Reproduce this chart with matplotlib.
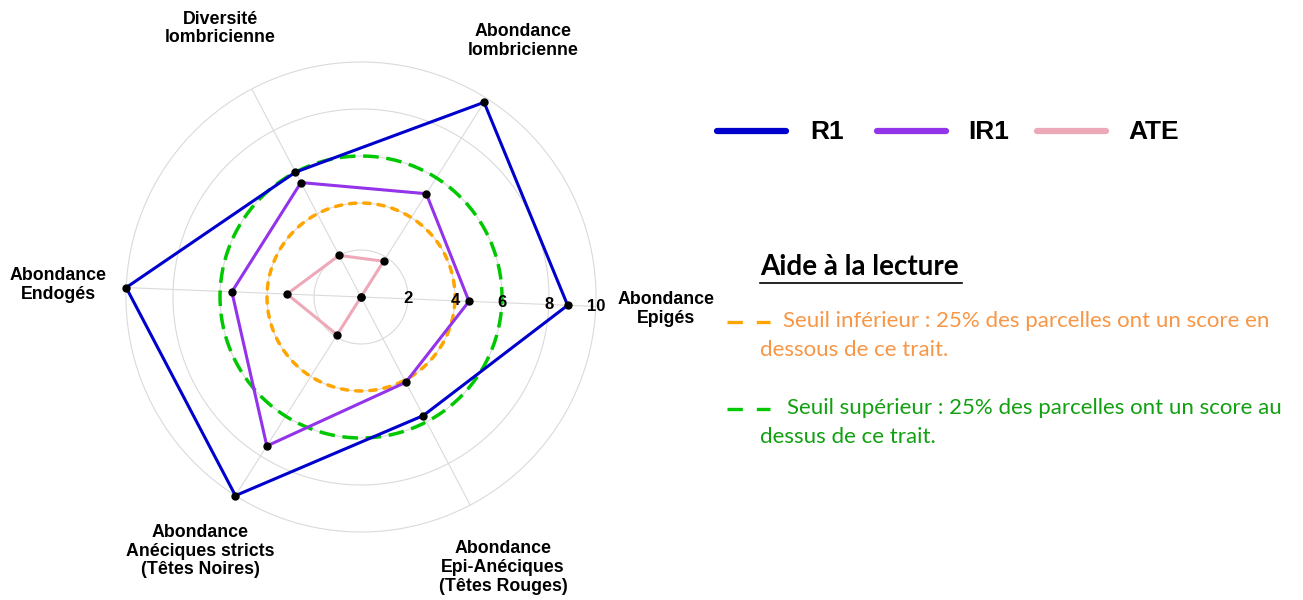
import numpy as np
import matplotlib.pyplot as plt
from matplotlib.lines import Line2D

# axes of the radar (counter-clockwise from the right)
axes_labels = ["Abondance\nEpigés",
               "Abondance\nlombricienne",
               "Diversité\nlombricienne",
               "Abondance\nEndogés",
               "Abondance\nAnéciques stricts\n(Têtes Noires)",
               "Abondance\nEpi-Anéciques\n(Têtes Rouges)"]

series_names = ["R1", "IR1", "ATE"]
r1 = [8.8, 9.8, 6.0, 10.0, 10.0, 5.7]
ir1 = [4.6, 5.2, 5.5, 5.5, 7.5, 4.1]
ate = [0.0, 1.8, 2.0, 3.15, 1.9, 0.0]

seuil_inf = 4.0
seuil_sup = 6.0
grid_levels = [2, 4, 6, 8, 10]

colors = ["#0000CD", "#9333EA", "#EEA9B8"]

W, H = 1303, 600
fig = plt.figure(figsize=(W / 100, H / 100), dpi=100)

# polar axes centred at (361, 297) px with a radius of 235 px
cx, cy, rad = 361, 297, 235
ax = fig.add_axes([(cx - rad) / W, (H - cy - rad) / H, 2 * rad / W, 2 * rad / H],
                  projection="polar")
ax.set_theta_offset(np.deg2rad(-2.3))
ax.set_ylim(0, 10)
ax.grid(False)
ax.set_xticks([])
ax.set_yticks([])
ax.spines["polar"].set_visible(False)
ax.patch.set_alpha(0)

n = len(axes_labels)
theta = np.arange(n) * 2 * np.pi / n
full = np.linspace(0, 2 * np.pi, 400)

# grid
for lv in grid_levels:
    ax.plot(full, np.full_like(full, lv), color="#DADADA", lw=0.8, zorder=1,
            clip_on=False)
for t in theta:
    ax.plot([t, t], [0, 10], color="#DADADA", lw=0.8, zorder=1)

# threshold circles
ax.plot(full, np.full_like(full, seuil_inf), color="#FFA500", lw=2.5,
        ls=(0, (1.8, 2.3)), dash_capstyle="round", zorder=2)
ax.plot(full, np.full_like(full, seuil_sup), color="#00C800", lw=2.5,
        ls=(0, (4.5, 2.2)), zorder=2)

# series
for vals, c in zip([r1, ir1, ate], colors):
    tt = np.append(theta, theta[0])
    vv = np.append(vals, vals[0])
    ax.plot(tt, vv, color=c, lw=2.2, zorder=3, clip_on=False)
    ax.plot(theta, vals, "o", color="black", ms=5, zorder=4, clip_on=False)

# radial tick labels along the first axis
for lv in grid_levels:
    ax.text(theta[0], lv, str(lv), ha="center", va="center", fontsize=12,
            fontweight="bold", family="Liberation Sans", zorder=5)

# axis labels
label_r = [13.0, 12.9, 12.9, 12.9, 12.8, 13.0]
for t, lab, rr in zip(theta, axes_labels, label_r):
    ax.text(t, rr, lab, ha="center", va="center", fontsize=12.8, fontweight="bold",
            family="Liberation Sans", linespacing=1.12)

# legend (top right)
def fx(x):
    return x / W

def fy(y):
    return 1 - y / H

leg_x = [(717, 786, 810), (877, 946, 968), (1037, 1106, 1128)]
for (x0, x1, xt), name, c in zip(leg_x, series_names, colors):
    fig.add_artist(Line2D([fx(x0), fx(x1)], [fy(131), fy(131)], color=c, lw=4.5,
                          solid_capstyle="round"))
    fig.text(fx(xt), fy(132), name, ha="left", va="center", fontsize=19,
             fontweight="bold", family="Liberation Sans")

# reading guide
fig.text(fx(760), fy(267), "Aide à la lecture", ha="left", va="center",
         fontsize=20, fontweight="bold", family="Lato")
fig.add_artist(Line2D([fx(760), fx(962)], [fy(283), fy(283)], color="black", lw=1.2))

orange_txt = "#F79646"
green_txt = "#12A012"
fig.add_artist(Line2D([fx(727), fx(770)], [fy(322), fy(322)], color="#FFA500", lw=2.4,
                      ls=(0, (4.6, 4.2))))
fig.text(fx(783), fy(321), "Seuil inférieur : 25% des parcelles ont un score en",
         ha="left", va="center", fontsize=16, color=orange_txt, family="Lato")
fig.text(fx(760), fy(350), "dessous de ce trait.", ha="left", va="center",
         fontsize=16, color=orange_txt, family="Lato")

fig.add_artist(Line2D([fx(727), fx(770)], [fy(409), fy(409)], color="#00C800", lw=2.4,
                      ls=(0, (4.6, 4.2))))
fig.text(fx(787), fy(408), "Seuil supérieur : 25% des parcelles ont un score au",
         ha="left", va="center", fontsize=16, color=green_txt, family="Lato")
fig.text(fx(760), fy(437), "dessus de ce trait.", ha="left", va="center",
         fontsize=16, color=green_txt, family="Lato")

fig.savefig("out.png", dpi=100)
